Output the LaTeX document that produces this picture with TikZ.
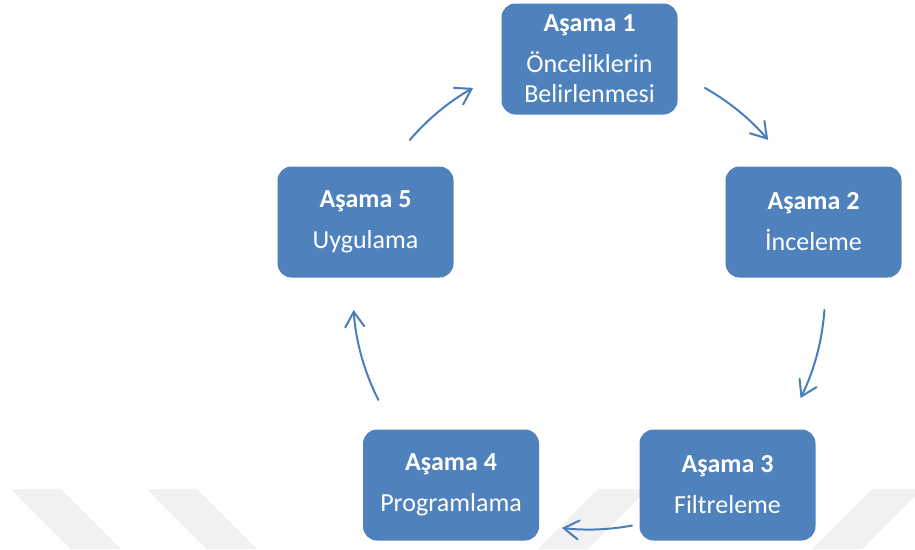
\documentclass[tikz,border=0pt]{standalone}
\usepackage{fontspec}
\setmainfont{Carlito}
\usetikzlibrary{arrows.meta}
\definecolor{boxblue}{HTML}{4F81BD}
\definecolor{arrblue}{HTML}{4A7EBB}
\definecolor{wm}{HTML}{F1F1F1}
\begin{document}
\begin{tikzpicture}[x=1pt,y=-1pt,
  stage/.style={fill=boxblue, rounded corners=14pt, minimum width=176pt, minimum height=111pt,
    text=white, align=center, font=\fontsize{26}{30}\selectfont, inner sep=0pt},
  cyc/.style={draw=arrblue, line width=2pt, line cap=round,
    -{Straight Barb[length=15pt,width=19pt,line cap=round]}},
  stripe/.style={fill=wm}]
\useasboundingbox (0,0) rectangle (915,549);
% watermark stripes
\fill[stripe] (11,489) -- (61,489) -- (121,549) -- (71,549) -- cycle;
\fill[stripe] (147,489) -- (197,489) -- (257,549) -- (207,549) -- cycle;
\fill[stripe] (598,489) -- (648,489) -- (588,549) -- (538,549) -- cycle;
\fill[stripe] (872,489) -- (922,489) -- (862,549) -- (812,549) -- cycle;
% stages
\coordinate (c) at (589,293.5);
\node[stage] (s1) at (589.5,59) {\textbf{Aşama 1}\\[11pt]Önceliklerin\\Belirlenmesi};
\node[stage] (s2) at (813.5,222) {\textbf{Aşama 2}\\[11pt]İnceleme};
\node[stage] (s3) at (727.5,485) {\textbf{Aşama 3}\\[11pt]Filtreleme};
\node[stage] (s4) at (451,485) {\textbf{Aşama 4}\\[11pt]Programlama};
\node[stage] (s5) at (365.5,222) {\textbf{Aşama 5}\\[11pt]Uygulama};
% cycle arrows
\draw[cyc] (c) ++(-60.6:236) arc[start angle=-60.6, end angle=-40.6, radius=236];
\draw[cyc] (c) ++(4:236) arc[start angle=4, end angle=26.3, radius=236];
\draw[cyc] (c) ++(79.5:236) arc[start angle=79.5, end angle=96.6, radius=236];
\draw[cyc] (c) ++(153.2:236) arc[start angle=153.2, end angle=176, radius=236];
\draw[cyc] (c) ++(220.6:236) arc[start angle=220.6, end angle=240.6, radius=236];
\end{tikzpicture}
\end{document}
